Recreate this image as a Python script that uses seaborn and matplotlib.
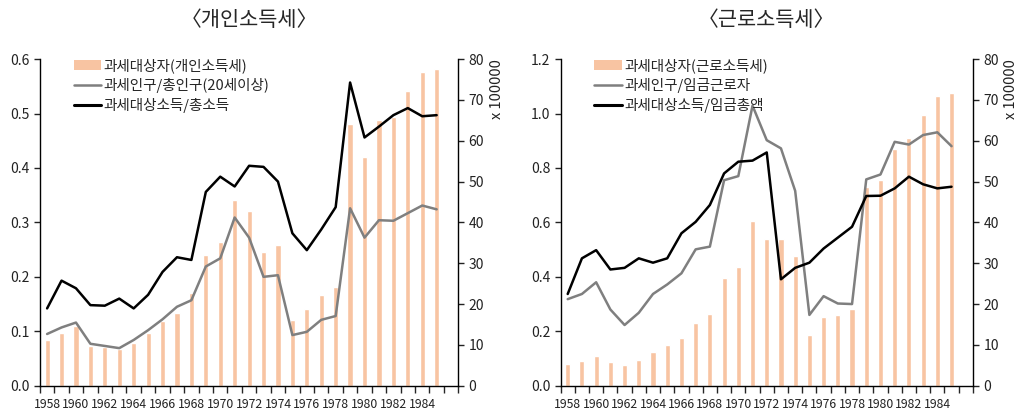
import numpy as np
import pandas as pd
import matplotlib
matplotlib.use('Agg')
import matplotlib.pyplot as plt
import seaborn as sns
from matplotlib.patches import Patch
from matplotlib.lines import Line2D

# Data
years = list(range(1958, 1986))

# Left chart: personal income tax
pit_taxpayers = [11.2, 13.0, 14.6, 9.7, 9.4, 8.9, 10.4, 12.8, 15.9, 17.7,
                 22.8, 32.0, 35.3, 45.5, 42.9, 32.7, 34.4, 16.1, 18.7, 22.2,
                 24.2, 64.0, 56.1, 65.0, 65.7, 72.2, 76.9, 77.6]
pit_pop_ratio = [0.095, 0.107, 0.116, 0.077, 0.073, 0.069, 0.084, 0.102, 0.122, 0.145,
                 0.157, 0.219, 0.234, 0.309, 0.272, 0.200, 0.203, 0.093, 0.099, 0.121,
                 0.128, 0.326, 0.272, 0.304, 0.303, 0.317, 0.331, 0.324]
pit_income_ratio = [0.142, 0.193, 0.179, 0.148, 0.147, 0.160, 0.142, 0.167, 0.209, 0.236,
                    0.231, 0.356, 0.384, 0.366, 0.404, 0.402, 0.375, 0.280, 0.249, 0.287,
                    0.328, 0.557, 0.456, 0.476, 0.497, 0.510, 0.495, 0.497]

# Right chart: earned income tax
eit_taxpayers = [5.3, 6.1, 7.3, 5.9, 5.1, 6.4, 8.3, 10.0, 11.6, 15.3,
                 17.6, 26.5, 29.0, 40.4, 35.9, 35.9, 31.8, 12.4, 16.9, 17.3,
                 18.9, 48.7, 50.4, 58.0, 60.6, 66.3, 70.9, 71.6]
eit_worker_ratio = [0.318, 0.337, 0.380, 0.280, 0.223, 0.268, 0.337, 0.372, 0.413, 0.501,
                    0.511, 0.755, 0.770, 1.029, 0.902, 0.872, 0.716, 0.260, 0.329, 0.302,
                    0.300, 0.758, 0.776, 0.896, 0.886, 0.921, 0.931, 0.880]
eit_wage_ratio = [0.337, 0.468, 0.498, 0.427, 0.433, 0.468, 0.452, 0.468, 0.560, 0.602,
                  0.664, 0.780, 0.823, 0.827, 0.857, 0.391, 0.433, 0.452, 0.504, 0.544,
                  0.584, 0.697, 0.698, 0.725, 0.768, 0.740, 0.725, 0.731]

titles = ['〈개인소득세〉', '〈근로소득세〉']
bar_labels = ['과세대상자(개인소득세)', '과세대상자(근로소득세)']
gray_labels = ['과세인구/총인구(20세이상)', '과세인구/임금근로자']
black_labels = ['과세대상소득/총소득', '과세대상소득/임금총액']

sns.set_style('ticks')
plt.rcParams['font.family'] = ['Noto Sans CJK KR', 'DejaVu Sans']

bar_color = '#F8C4A2'
gray_color = '#7F7F7F'
text_color = '#222222'

fig = plt.figure(figsize=(10.23, 4.15), dpi=100)
positions = [[0.039, 0.0706, 0.409, 0.787], [0.548, 0.0706, 0.403, 0.787]]
left_lims = [(0, 0.6, 0.1, '{:.1f}'), (0, 1.2, 0.2, '{:.1f}')]
series = [(pit_taxpayers, pit_pop_ratio, pit_income_ratio),
          (eit_taxpayers, eit_worker_ratio, eit_wage_ratio)]


def draw_panel(i):
    bars, gray, black = series[i]
    df = pd.DataFrame({'year': [str(y) for y in years], 'pos': np.arange(len(years)),
                       'bars': bars, 'gray': gray, 'black': black})
    ax = fig.add_axes(positions[i])
    ax2 = ax.twinx()

    # Bars on the right (x 100000) axis
    sns.barplot(data=df, x='year', y='bars', ax=ax2, color=bar_color, width=0.36,
                saturation=1)
    # Lines on the left ratio axis
    sns.lineplot(data=df, x='pos', y='gray', ax=ax, color=gray_color, linewidth=1.8)
    sns.lineplot(data=df, x='pos', y='black', ax=ax, color='black', linewidth=1.8)

    ax.set_zorder(ax2.get_zorder() + 1)
    ax.patch.set_visible(False)

    lo, hi, step, fmt = left_lims[i]
    ax.set_ylim(lo, hi)
    ticks = np.arange(lo, hi + step / 2, step)
    ax.set_yticks(ticks)
    ax.set_yticklabels([fmt.format(t) for t in ticks])
    ax2.set_ylim(0, 80)
    ax2.set_yticks(np.arange(0, 81, 10))

    ax.set_xlim(-0.5, 28.5)
    ax.set_xticks(np.arange(0, 28, 2))
    ax.set_xticklabels([str(y) for y in years[::2]])
    ax.set_xticks(np.arange(-0.5, 29, 1), minor=True)
    ax.tick_params(axis='x', which='major', length=0, pad=9, labelsize=8.8,
                   colors=text_color)
    ax.tick_params(axis='x', which='minor', length=5, width=1, direction='out')
    ax.tick_params(axis='y', length=4, width=1, labelsize=10, colors=text_color)
    ax2.tick_params(axis='y', length=4, width=1, labelsize=10, colors=text_color)

    ax.set_xlabel('')
    ax.set_ylabel('')
    ax2.set_xlabel('')
    ax2.set_ylabel('x 100000', loc='top', fontsize=10.5, labelpad=4, color=text_color)

    for a in (ax, ax2):
        a.spines['top'].set_visible(False)
        for s in a.spines.values():
            s.set_color('black')
            s.set_linewidth(1)
    ax.spines['right'].set_visible(False)
    ax2.spines['left'].set_visible(False)
    ax2.spines['bottom'].set_visible(False)

    handles = [Patch(facecolor=bar_color, edgecolor='none'),
               Line2D([], [], color=gray_color, linewidth=1.8),
               Line2D([], [], color='black', linewidth=2.2)]
    labels = [bar_labels[i], gray_labels[i], black_labels[i]]
    ax.legend(handles, labels, loc='upper left', bbox_to_anchor=(0.06, 1.03),
              frameon=False, fontsize=10.5, handlelength=1.9, handletextpad=0.15,
              labelspacing=0.35, borderaxespad=0.2)

    x_center = positions[i][0] + positions[i][2] / 2
    fig.text(x_center, 0.952, titles[i], ha='center', va='center', fontsize=15)


for i in range(2):
    draw_panel(i)

fig.savefig('out.png', dpi=100)
